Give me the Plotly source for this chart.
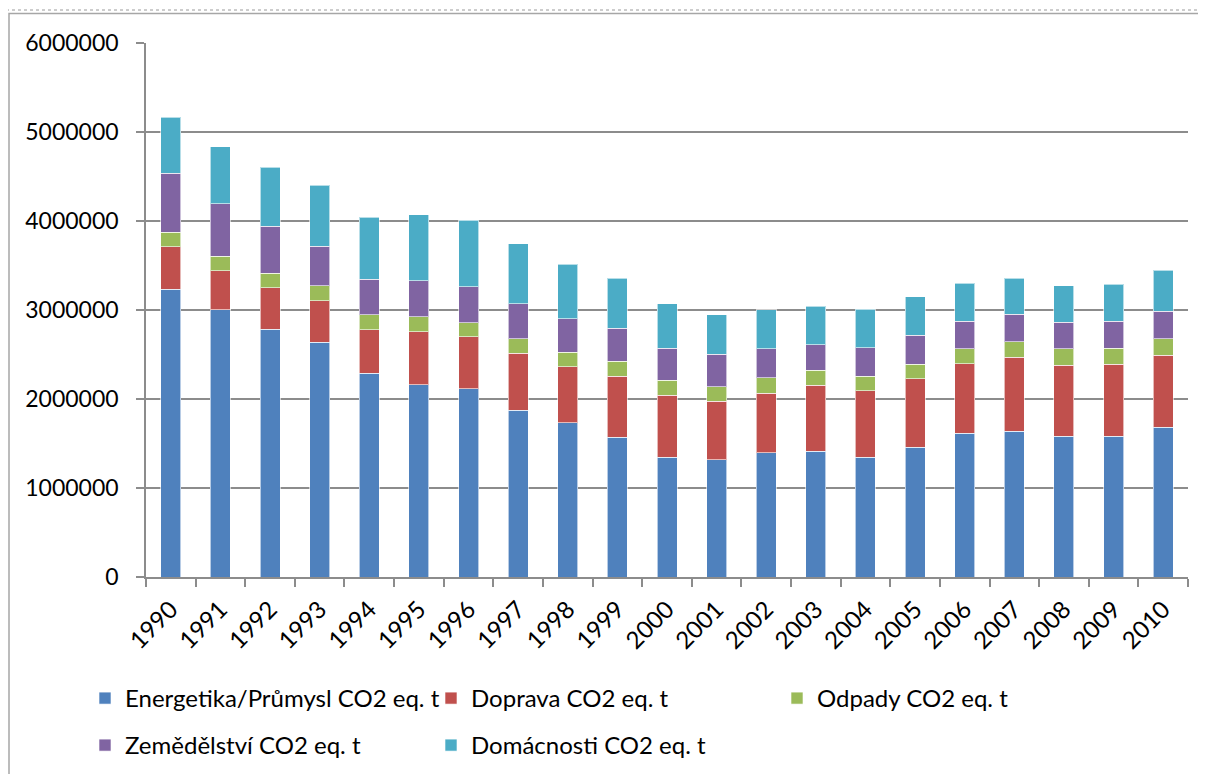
import plotly.graph_objects as go

years = [str(y) for y in range(1990, 2011)]
energetika = [3233000, 3004000, 2783000, 2640000, 2288000, 2161000, 2116000, 1873000, 1734000, 1569000,
              1344000, 1315000, 1397000, 1412000, 1344000, 1457000, 1614000, 1640000, 1580000, 1580000, 1685000]
doprava = [478000, 438000, 468000, 465000, 491000, 596000, 584000, 640000, 626000, 686000,
           697000, 659000, 667000, 742000, 750000, 768000, 783000, 828000, 798000, 809000, 806000]
odpady = [165000, 161000, 161000, 165000, 165000, 168000, 158000, 165000, 168000, 168000,
          172000, 165000, 176000, 168000, 164000, 168000, 169000, 176000, 184000, 180000, 187000]
zemedelstvi = [663000, 592000, 528000, 445000, 404000, 405000, 404000, 393000, 375000, 371000,
               360000, 363000, 326000, 288000, 319000, 322000, 307000, 311000, 299000, 304000, 307000]
domacnosti = [626000, 640000, 663000, 686000, 697000, 741000, 745000, 674000, 610000, 562000,
              498000, 442000, 438000, 435000, 434000, 435000, 427000, 401000, 412000, 419000, 464000]

series = [
    ("Energetika/Průmysl CO2 eq. t", energetika, "#4F81BD", "legend"),
    ("Doprava CO2 eq. t", doprava, "#C0504D", "legend"),
    ("Odpady CO2 eq. t", odpady, "#9BBB59", "legend"),
    ("Zemědělství CO2 eq. t", zemedelstvi, "#8064A2", "legend2"),
    ("Domácnosti CO2 eq. t", domacnosti, "#4BACC6", "legend2"),
]

FONT = "Lato, Liberation Sans, Arial"
FS = 23

fig = go.Figure()
for name, vals, col, lg in series:
    fig.add_trace(go.Bar(
        x=years, y=vals, name=name, legend=lg,
        marker=dict(color=col, line=dict(color="rgba(255,255,255,0.6)", width=1)),
    ))

# page is offset by the default 8px body margin
OFF = 8
W, H = 1198, 766
L, R, T, B = 146 - OFF, 18, 43 - OFF, 766 - (577 - OFF)
pw, ph = W - L - R, H - T - B

def px(p):
    return (p - OFF - L) / pw

def py(p):
    return (H - B - (p - OFF)) / ph

legend_common = dict(
    orientation="h", xanchor="left", yanchor="top",
    entrywidth=301, entrywidthmode="pixels",
    font=dict(family=FONT, size=24, color="black"),
    traceorder="normal", itemwidth=30,
    bgcolor="rgba(0,0,0,0)",
)

fig.update_layout(
    width=W, height=H,
    barmode="stack", bargap=0.597,
    margin=dict(l=L, r=R, t=T, b=B, autoexpand=False),
    paper_bgcolor="white", plot_bgcolor="white",
    font=dict(family=FONT, size=FS, color="black"),
    showlegend=True,
    legend=dict(x=px(85), y=py(676), **legend_common),
    legend2=dict(x=px(85), y=py(723), **legend_common),
    xaxis=dict(
        type="category", tickangle=-45, tickson="boundaries",
        ticks="outside", ticklen=8, tickcolor="#8c8c8c", tickwidth=1.5,
        showline=True, linecolor="#8c8c8c", linewidth=1.5,
        showgrid=False, tickfont=dict(family=FONT, size=24),
        ticklabelstandoff=7, automargin=False,
    ),
    yaxis=dict(
        range=[0, 6000000], dtick=1000000, tickformat="d",
        ticks="outside", ticklen=8, tickcolor="#8c8c8c", tickwidth=1.5,
        showline=True, linecolor="#8c8c8c", linewidth=1.5,
        showgrid=True, gridcolor="#8c8c8c", gridwidth=1.5,
        zeroline=False, tickfont=dict(family=FONT, size=FS),
        ticklabelstandoff=13, automargin=False,
    ),
    shapes=[
        dict(type="rect", xref="paper", yref="paper",
             x0=px(9), x1=px(1230), y0=py(13.5), y1=py(800),
             line=dict(color="#a6a6a6", width=1.5), fillcolor="rgba(0,0,0,0)", layer="below"),
        dict(type="line", xref="paper", yref="paper",
             x0=px(0), x1=px(1220), y0=py(10), y1=py(10),
             line=dict(color="#9a9a9a", width=1, dash="dot")),
    ],
)

fig.write_html("out.html")
